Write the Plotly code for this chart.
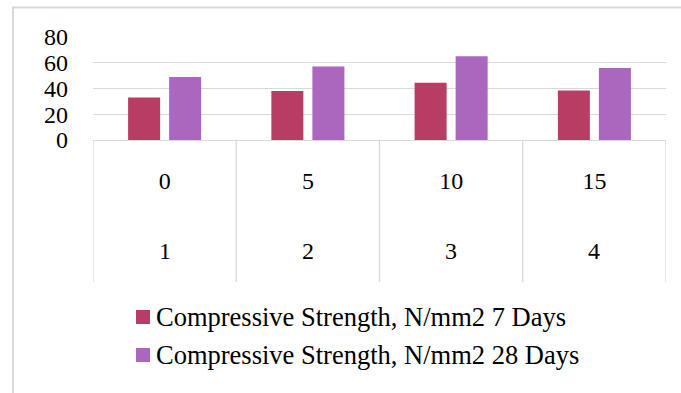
import plotly.graph_objects as go

# ---- data ----
concentration = ["0", "5", "10", "15"]        # upper category row
sample_no = ["1", "2", "3", "4"]              # lower category row
strength_7d = [33, 38, 44.5, 38.5]
strength_28d = [49, 57, 65, 56]
series_names = ["Compressive Strength, N/mm2 7 Days",
                "Compressive Strength, N/mm2 28 Days"]
y_ticks = [0, 20, 40, 60, 80]

colors = ["#B83D65", "#AB66BE"]
FONT = "Liberation Serif"
GRID = "#D9D9D9"

W, H = 681, 393
L, R, T, B = 93, 15, 37, 253
pw, ph = W - L - R, H - T - B

def px_x(px):
    return (px - L) / pw

def px_y(py):
    return (H - B - py) / ph

fig = go.Figure()
for name, vals, c in zip(series_names, [strength_7d, strength_28d], colors):
    fig.add_trace(go.Bar(x=concentration, y=vals, name=name,
                         marker=dict(color=c, line=dict(width=0)),
                         showlegend=False))

shapes = []
# category dividers through the label area
for i in range(len(concentration) + 1):
    shapes.append(dict(type="line", xref="x", yref="paper",
                       x0=i - 0.5, x1=i - 0.5, y0=0, y1=px_y(282),
                       line=dict(color=GRID, width=1.3)))
# chart border (top and left)
shapes.append(dict(type="line", xref="paper", yref="paper",
                   x0=px_x(12), x1=px_x(681), y0=px_y(7.5), y1=px_y(7.5),
                   line=dict(color=GRID, width=2)))
shapes.append(dict(type="line", xref="paper", yref="paper",
                   x0=px_x(13), x1=px_x(13), y0=px_y(6.5), y1=px_y(393),
                   line=dict(color=GRID, width=2)))

annotations = []
# lower category row
for i, s in enumerate(sample_no):
    annotations.append(dict(x=i, y=px_y(251), xref="x", yref="paper",
                            text=s, showarrow=False,
                            font=dict(family=FONT, size=24, color="#000"),
                            xanchor="center", yanchor="middle"))
# manual legend
legend_rows = [317, 355]
for name, c, yc in zip(series_names, colors, legend_rows):
    shapes.append(dict(type="rect", xref="paper", yref="paper",
                       x0=px_x(136), x1=px_x(150),
                       y0=px_y(yc - 7), y1=px_y(yc + 7),
                       fillcolor=c, line=dict(width=0)))
    annotations.append(dict(x=px_x(154), y=px_y(yc), xref="paper", yref="paper",
                            text=name, showarrow=False,
                            font=dict(family=FONT, size=26.5, color="#000"),
                            xanchor="left", yanchor="middle"))

fig.update_layout(
    template="none",
    width=W, height=H,
    margin=dict(l=L, r=R, t=T, b=B, pad=0, autoexpand=False),
    paper_bgcolor="white", plot_bgcolor="white",
    barmode="group", bargap=0.427, bargroupgap=0.22,
    font=dict(family=FONT, size=24, color="#000"),
    shapes=shapes, annotations=annotations,
    xaxis=dict(type="category", range=[-0.5, 3.5], showgrid=False,
               automargin=False,
               showline=True, linecolor=GRID, linewidth=1.3,
               ticks="", ticklabelstandoff=19,
               tickfont=dict(family=FONT, size=24, color="#000")),
    yaxis=dict(range=[0, 80], tickvals=y_ticks, showgrid=True,
               automargin=False,
               gridcolor=GRID, gridwidth=1.3, zeroline=False,
               showline=False, ticks="", ticklabelstandoff=24,
               tickfont=dict(family=FONT, size=24, color="#000")),
)

fig.write_html("out.html",
               config={"displayModeBar": False},
               post_script="document.body.style.margin='0px';document.body.style.overflow='hidden';")
